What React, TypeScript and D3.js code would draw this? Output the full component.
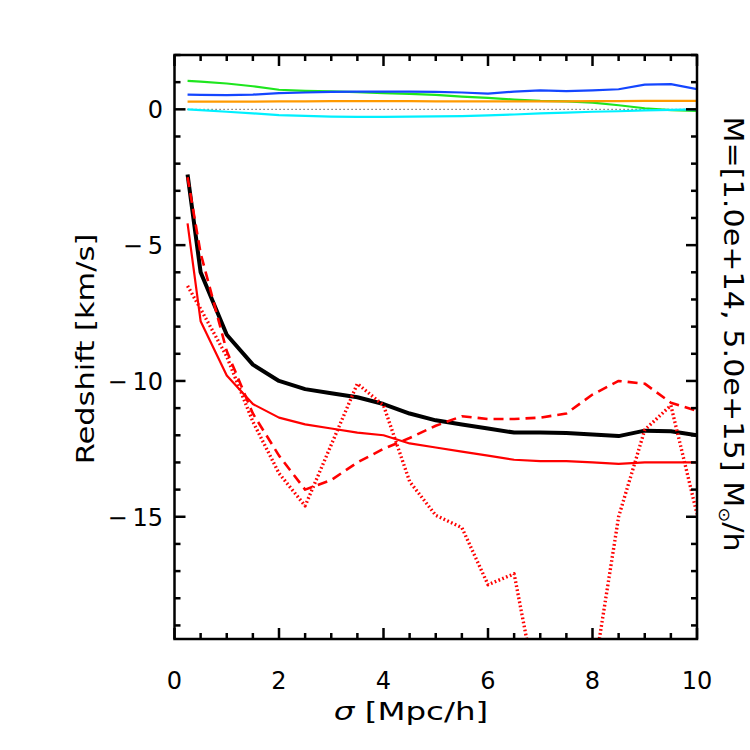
import React from 'react';
import * as d3 from 'd3';

// sampled projected radii (Mpc/h)
const sigma = [0.25, 0.5, 1, 1.5, 2, 2.5, 3, 3.5, 4, 4.5, 5, 5.5, 6, 6.5, 7, 7.5, 8, 8.5, 9, 9.5, 10];

// redshift components (km/s)
const totalShift = [-2.4, -6.0, -8.3, -9.4, -10.0, -10.3, -10.45, -10.6, -10.85, -11.2, -11.45, -11.6, -11.75, -11.9, -11.9, -11.92, -11.97, -12.03, -11.83, -11.85, -12.0];
const redSolid = [-4.2, -7.8, -9.8, -10.85, -11.35, -11.6, -11.75, -11.9, -12.0, -12.3, -12.45, -12.6, -12.75, -12.9, -12.95, -12.95, -13.0, -13.05, -13.0, -13.0, -13.0];
const redDashed = [-2.5, -5.3, -8.9, -11.2, -12.75, -14.0, -13.65, -13.0, -12.5, -12.1, -11.65, -11.3, -11.4, -11.4, -11.35, -11.2, -10.5, -10.0, -10.1, -10.8, -11.1];
const redDotted = [-6.5, -7.35, -9.1, -11.5, -13.4, -14.6, -12.35, -10.1, -10.9, -13.7, -14.95, -15.4, -17.5, -17.1, -22.1, -24.0, -21.1, -15.0, -11.8, -10.9, -14.9];
const greenShift = [1.05, 1.02, 0.95, 0.85, 0.72, 0.68, 0.66, 0.63, 0.6, 0.57, 0.53, 0.47, 0.42, 0.36, 0.31, 0.29, 0.25, 0.15, 0.04, -0.03, -0.06];
const blueShift = [0.54, 0.53, 0.52, 0.54, 0.6, 0.62, 0.64, 0.65, 0.65, 0.65, 0.64, 0.62, 0.58, 0.65, 0.7, 0.67, 0.7, 0.74, 0.91, 0.93, 0.74];
const orangeShift = [0.28, 0.28, 0.28, 0.28, 0.29, 0.29, 0.3, 0.3, 0.3, 0.3, 0.29, 0.29, 0.29, 0.29, 0.29, 0.29, 0.3, 0.3, 0.31, 0.31, 0.31];
const cyanShift = [0.0, -0.03, -0.09, -0.15, -0.21, -0.24, -0.27, -0.28, -0.28, -0.27, -0.26, -0.25, -0.22, -0.19, -0.15, -0.12, -0.09, -0.07, -0.04, -0.02, 0.0];

const xMajor = [0, 2, 4, 6, 8, 10];
const yMajor = [0, -5, -10, -15];

const margin = { left: 174.5, right: 697, top: 55, bottom: 639 };
const FONT = 'DejaVu Sans, sans-serif';

export default function App() {
  const x = d3.scaleLinear().domain([0, 10]).range([margin.left, margin.right]);
  const y = d3.scaleLinear().domain([-19.5, 2]).range([margin.bottom, margin.top]);

  const line = (vals: number[]) => d3.line<number>()
    .x((_, i) => x(sigma[i]))
    .y((d) => y(d))(vals) || '';

  const xMinor = d3.range(0, 10.01, 0.5);
  const yMinor = d3.range(-19, 2.01, 1);

  // curves: thin coloured ones first, then the black and red
  const series = [
    { vals: greenShift, color: '#1ee61e', w: 2.2, dash: '' },
    { vals: blueShift, color: '#1446ff', w: 2.2, dash: '' },
    { vals: orangeShift, color: '#ff9a00', w: 2.2, dash: '' },
    { vals: cyanShift, color: '#00f0ff', w: 2.2, dash: '' },
    { vals: totalShift, color: '#000000', w: 4, dash: '' },
    { vals: redSolid, color: '#ff0000', w: 2.2, dash: '' },
    { vals: redDashed, color: '#ff0000', w: 2.6, dash: '10,6' },
    { vals: redDotted, color: '#ff0000', w: 3.4, dash: '1.7,2.4' },
  ];

  const maj = 11;
  const min = 6;

  return (
    <svg width={750} height={750} style={{ position: 'absolute', left: 0, top: 0, background: '#fff' }}>
      <defs>
        <clipPath id="plotArea">
          <rect x={margin.left} y={margin.top} width={margin.right - margin.left} height={margin.bottom - margin.top} />
        </clipPath>
      </defs>

      <g clipPath="url(#plotArea)" fill="none">
        {/* zero line */}
        <line x1={x(0.25)} x2={x(10)} y1={y(0)} y2={y(0)} stroke="#000" strokeWidth={1} strokeDasharray="1,3" />
        {series.map((s, i) => (
          <path key={i} d={line(s.vals)} stroke={s.color} strokeWidth={s.w}
            strokeDasharray={s.dash || undefined} strokeLinejoin="round" />
        ))}
      </g>

      {/* frame and ticks */}
      <g stroke="#000" strokeWidth={2.5} fill="none">
        <rect x={margin.left} y={margin.top} width={margin.right - margin.left} height={margin.bottom - margin.top} />
        {xMinor.map((v) => {
          const len = xMajor.includes(v) ? maj : min;
          return (
            <g key={`xt${v}`}>
              <line x1={x(v)} x2={x(v)} y1={margin.bottom} y2={margin.bottom - len} />
              <line x1={x(v)} x2={x(v)} y1={margin.top} y2={margin.top + len} />
            </g>
          );
        })}
        {yMinor.map((v) => {
          const len = yMajor.includes(v) ? maj : min;
          return (
            <g key={`yt${v}`}>
              <line x1={margin.left} x2={margin.left + len} y1={y(v)} y2={y(v)} />
              <line x1={margin.right} x2={margin.right - len} y1={y(v)} y2={y(v)} />
            </g>
          );
        })}
      </g>

      {/* tick labels */}
      <g fontFamily={FONT} fontSize={24} fill="#000">
        {xMajor.map((v) => (
          <text key={`xl${v}`} x={x(v)} y={689} textAnchor="middle">{v}</text>
        ))}
        {yMajor.map((v) => (
          <text key={`yl${v}`} x={163} y={y(v) + 9} textAnchor="end">
            {v < 0 ? `\u2212\u2009${Math.abs(v)}` : `${v}`}
          </text>
        ))}
      </g>

      {/* axis titles, stretched sideways like the wide plot font */}
      <g fontFamily={FONT} fill="#000">
        <g transform="translate(411,720) scale(1.3,1)">
          <text textAnchor="middle" fontSize={25}>
            <tspan fontStyle="italic">σ</tspan> [Mpc/h]
          </text>
        </g>
        <g transform="translate(94,349) rotate(-90) scale(1.22,1)">
          <text textAnchor="middle" fontSize={25}>Redshift [km/s]</text>
        </g>
        <g transform="translate(724,334) rotate(90) scale(1.12,1)">
          <text textAnchor="middle" fontSize={27}>
            M=[1.0e+14, 5.0e+15] M<tspan fontSize={16} dy={5}>⊙</tspan><tspan dy={-5}>/h</tspan>
          </text>
        </g>
      </g>
    </svg>
  );
}
